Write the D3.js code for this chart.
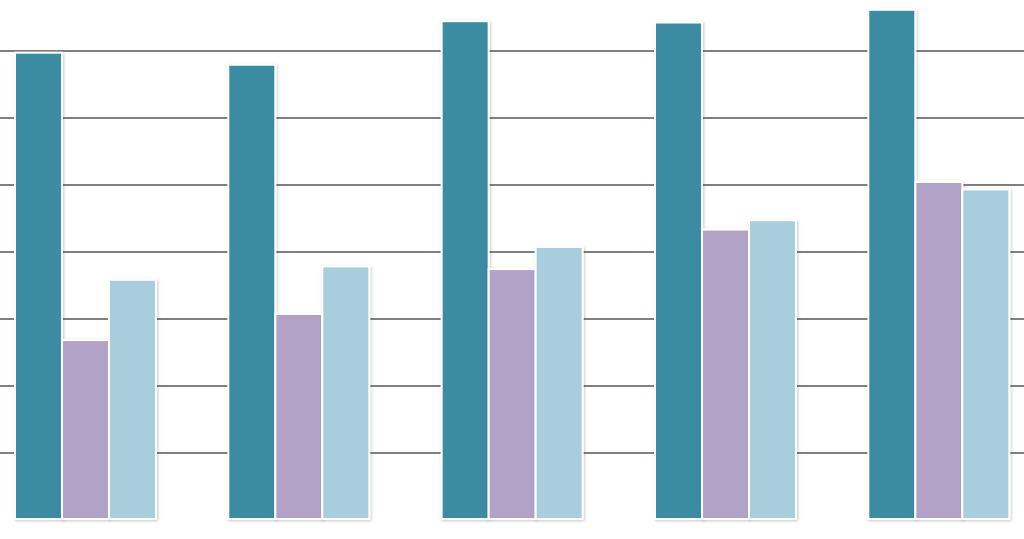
<!DOCTYPE html>
<html><head><meta charset="utf-8">
<script src="https://cdn.jsdelivr.net/npm/d3@7"></script>
<style>html,body{margin:0;padding:0;background:#fff;overflow:hidden}</style>
</head><body>
<svg id="chart" width="1024" height="539"></svg>
<script>
const categories = ["A", "B", "C", "D", "E"];
const seriesNames = ["Series 1", "Series 2", "Series 3"];
const series1 = [6.96, 6.78, 7.43, 7.41, 7.60];
const series2 = [2.67, 3.06, 3.73, 4.32, 5.03];
const series3 = [3.57, 3.77, 4.06, 4.46, 4.92];
const gridTicks = [1, 2, 3, 4, 5, 6, 7];
const colors = ["#3a8ba3", "#b2a2c8", "#a8cddc"];

const svg = d3.select("#chart");
const W = 1024, baseY = 519, topY = 50;

const defs = svg.append("defs");
const f = defs.append("filter").attr("id", "sh").attr("x", "-20%").attr("y", "-5%").attr("width", "140%").attr("height", "110%");
f.append("feDropShadow").attr("dx", 1).attr("dy", 1).attr("stdDeviation", 1.6)
  .attr("flood-color", "#000").attr("flood-opacity", 0.22);

const y = d3.scaleLinear().domain([0, 7]).range([baseY, topY]);
const x0 = d3.scaleBand().domain(categories).range([-21.2, 1045.5])
  .paddingInner(0.339).paddingOuter(0.1695);
const x1 = d3.scaleBand().domain(seriesNames).range([0, x0.bandwidth()]).padding(0);

const grid = svg.append("g").attr("transform", "translate(0,0)")
  .call(d3.axisLeft(y).tickValues(gridTicks).tickSize(-W).tickFormat(""));
grid.select(".domain").remove();
grid.selectAll(".tick line").attr("stroke", "#7f7f7f").attr("stroke-width", 2)
  .attr("shape-rendering", "crispEdges");

const data = categories.map((c, i) => ({
  cat: c,
  vals: [series1[i], series2[i], series3[i]].map((v, j) => ({ s: seriesNames[j], v, j }))
}));

const g = svg.append("g").selectAll("g").data(data).join("g")
  .attr("transform", d => `translate(${x0(d.cat)},0)`);

g.selectAll("rect").data(d => d.vals).join("rect")
  .attr("x", d => x1(d.s))
  .attr("y", d => y(d.v))
  .attr("width", x1.bandwidth())
  .attr("height", d => baseY - y(d.v))
  .attr("fill", d => colors[d.j])
  .attr("stroke", "#fff")
  .attr("stroke-width", 2)
  .attr("filter", "url(#sh)");
</script>
</body></html>
